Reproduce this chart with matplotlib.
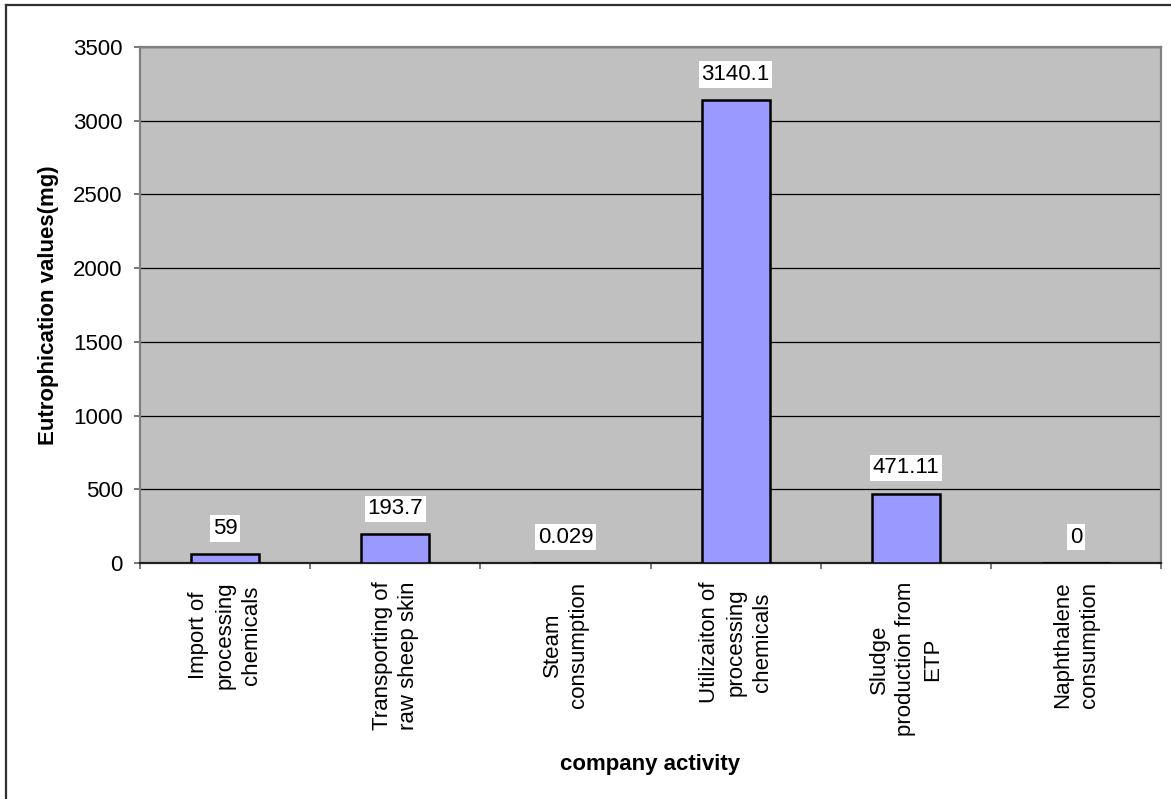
import matplotlib.pyplot as plt
from matplotlib.lines import Line2D
import numpy as np

plt.rcParams['font.family'] = ['Liberation Sans', 'DejaVu Sans']

activities = ["Import of\nprocessing\nchemicals",
              "Transporting of\nraw sheep skin",
              "Steam\nconsumption",
              "Utilizaiton of\nprocessing\nchemicals",
              "Sludge\nproduction from\nETP",
              "Naphthalene\nconsumption"]
eutrophication = [59, 193.7, 0.029, 3140.1, 471.11, 0]
yticks = [0, 500, 1000, 1500, 2000, 2500, 3000, 3500]

fig = plt.figure(figsize=(11.71, 7.99), dpi=100)
ax = fig.add_axes([0.1196, 0.2954, 0.8719, 0.6458])
ax.set_facecolor('#C0C0C0')

x = np.arange(len(activities))
ax.bar(x, eutrophication, width=0.4, color='#9999FF', edgecolor='black',
       linewidth=1.8, zorder=3)

for xi, v in zip(x, eutrophication):
    ax.annotate(f"{v:g}", (xi, v), xytext=(0, 18.5), textcoords='offset points',
                ha='center', va='center', fontsize=16, zorder=4,
                bbox=dict(boxstyle='square,pad=0.12', fc='white', ec='none'))

ax.set_xlim(-0.5, len(activities) - 0.5)
ax.set_ylim(0, 3500)
ax.set_yticks(yticks)
ax.yaxis.grid(True, color='black', linewidth=0.9, zorder=1)
ax.set_axisbelow(True)

ax.set_xticks(x)
ax.set_xticklabels(activities, rotation=90, fontsize=16, ha='center',
                   va='top', multialignment='center', linespacing=1.35)
ax.set_xticks(np.arange(len(activities) + 1) - 0.5, minor=True)
ax.tick_params(axis='x', which='major', length=0, pad=13.5)
ax.tick_params(axis='x', which='minor', length=4.5, width=1.2, color='#606060')
ax.tick_params(axis='y', labelsize=16, length=4.5, width=1.2, color='#606060', pad=8)

for side in ['left', 'top', 'right']:
    ax.spines[side].set_color('#808080')
    ax.spines[side].set_linewidth(1.6)
ax.spines['bottom'].set_color('#202020')
ax.spines['bottom'].set_linewidth(1.6)

ax.set_ylabel("Eutrophication values(mg)", fontsize=16, fontweight='bold')
ax.set_xlabel("company activity", fontsize=16, fontweight='bold')
ax.yaxis.set_label_coords(-0.079, 0.5)
ax.xaxis.set_label_coords(0.5, -0.37)

# chart border (only top and left edges remain in frame)
fig.add_artist(Line2D([6 / 1171, 1], [1 - 5 / 799, 1 - 5 / 799],
                      transform=fig.transFigure, color='#303030', linewidth=1.6))
fig.add_artist(Line2D([6 / 1171, 6 / 1171], [0, 1 - 5 / 799],
                      transform=fig.transFigure, color='#303030', linewidth=1.6))

fig.savefig("out.png", dpi=100)
